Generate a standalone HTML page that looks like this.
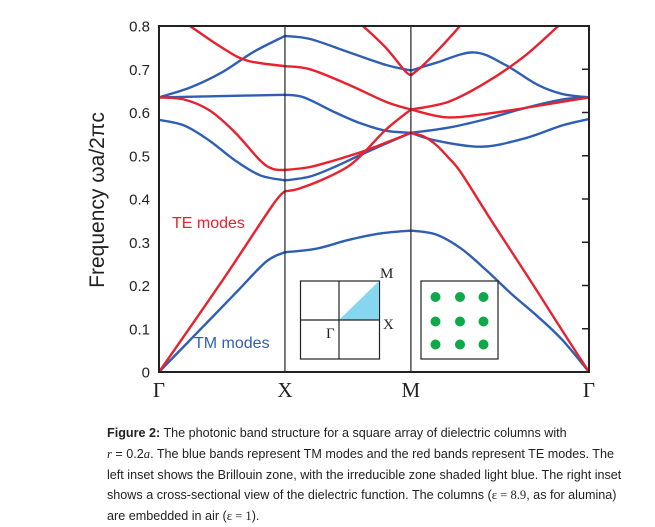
<!DOCTYPE html>
<html><head><meta charset="utf-8"><style>
body{margin:0;background:#fff;width:655px;height:527px;overflow:hidden;font-family:"Liberation Sans",sans-serif}
#cap{position:absolute;left:107px;top:423px;font-size:12.6px;line-height:20.8px;color:#222;white-space:nowrap}
</style></head><body>
<svg id="chart" width="655" height="410" style="position:absolute;left:0;top:0" xmlns="http://www.w3.org/2000/svg">
<g id="bands"></g>
<g id="axes"></g>
</svg>
<div id="cap">
<div><b>Figure 2:</b> The photonic band structure for a square array of dielectric columns with</div>
<div><i style="font-family:'Liberation Serif',serif">r</i> = 0.2<i style="font-family:'Liberation Serif',serif">a</i>. The blue bands represent TM modes and the red bands represent TE modes. The</div>
<div>left inset shows the Brillouin zone, with the irreducible zone shaded light blue. The right inset</div>
<div>shows a cross-sectional view of the dielectric function. The columns (<span style="font-family:'Liberation Serif',serif">ε = 8.9</span>, as for alumina)</div>
<div>are embedded in air (<span style="font-family:'Liberation Serif',serif">ε = 1</span>).</div>
</div>
<script>
const kLabels=["Γ","X","M","Γ"];
const kPoints=[0,1,2,3.414];
const yTicks=[0,0.1,0.2,0.3,0.4,0.5,0.6,0.7,0.8];
const tmBands=[
[[0,0],[0.3,0.09],[0.6,0.18],[0.85,0.255],[1,0.277]],
[[1,0.277],[1.25,0.285],[1.5,0.305],[1.75,0.32],[2,0.327]],
[[2,0.327],[2.2,0.318],[2.4,0.285],[2.6,0.235],[2.8,0.18],[3.0,0.13],[3.2,0.075],[3.414,0]],
[[0,0.583],[0.2,0.57],[0.4,0.535],[0.6,0.49],[0.8,0.455],[1,0.443]],
[[1,0.443],[1.2,0.452],[1.4,0.475],[1.6,0.502],[1.8,0.528],[2,0.553]],
[[0,0.635],[0.5,0.638],[1,0.641]],
[[1,0.641],[1.15,0.635],[1.4,0.6],[1.6,0.575],[1.8,0.558],[2,0.553]],
[[0,0.635],[0.25,0.658],[0.5,0.693],[0.75,0.74],[1,0.777]],
[[1,0.777],[1.2,0.77],[1.5,0.74],[1.8,0.71],[2,0.697]],
[[2,0.697],[2.2,0.715],[2.5,0.739],[2.75,0.71],[3.0,0.665],[3.2,0.643],[3.414,0.635]],
[[2,0.553],[2.3,0.565],[2.6,0.585],[2.9,0.61],[3.2,0.63],[3.414,0.635]],
[[2,0.553],[2.2,0.535],[2.56,0.521],[2.9,0.54],[3.2,0.57],[3.414,0.585]]
];
const teBands=[
[[0,0],[0.5,0.21],[0.9,0.385],[1,0.418]],
[[1,0.418],[1.1,0.423],[1.3,0.445],[1.5,0.475],[1.62,0.505],[1.8,0.56],[2,0.607]],
[[1,0.467],[1.2,0.474],[1.4,0.49],[1.6,0.508],[1.8,0.53],[2,0.553]],
[[2,0.553],[2.1,0.545],[2.2,0.525],[2.3,0.495],[2.4,0.46],[2.65,0.345],[2.93,0.22],[3.17,0.11],[3.414,0]],
[[0,0.635],[0.2,0.63],[0.4,0.605],[0.6,0.555],[0.8,0.49],[0.9,0.47],[1,0.467]],
[[0.246,0.8],[0.5,0.75],[0.7,0.72],[1,0.707]],
[[1,0.707],[1.2,0.7],[1.5,0.665],[1.8,0.625],[2,0.607]],
[[1.62,0.8],[1.8,0.75],[1.95,0.697],[2,0.686]],
[[2,0.686],[2.1,0.71],[2.25,0.755],[2.39,0.8]],
[[2,0.607],[2.3,0.625],[2.6,0.67],[2.9,0.73],[3.17,0.8]],
[[2,0.607],[2.28,0.589],[2.6,0.597],[3.0,0.615],[3.414,0.635]]
];
const NS="http://www.w3.org/2000/svg";
const X0=159,X1=589,Y0=372,Y1=26;
function xs(k){return X0+k*(X1-X0)/3.414;}
function ys(v){return Y0-v*(Y0-Y1)/0.8;}
function el(t,a,p){const e=document.createElementNS(NS,t);for(const k in a)e.setAttribute(k,a[k]);p.appendChild(e);return e;}
function crPath(pts){
  const P=pts.map(p=>[xs(p[0]),ys(p[1])]);
  let d="M"+P[0][0].toFixed(1)+","+P[0][1].toFixed(1);
  for(let i=0;i<P.length-1;i++){
    const p0=P[i-1]||P[i],p1=P[i],p2=P[i+1],p3=P[i+2]||P[i+1];
    const c1=[p1[0]+(p2[0]-p0[0])/6,p1[1]+(p2[1]-p0[1])/6];
    const c2=[p2[0]-(p3[0]-p1[0])/6,p2[1]-(p3[1]-p1[1])/6];
    d+=" C"+c1[0].toFixed(1)+","+c1[1].toFixed(1)+" "+c2[0].toFixed(1)+","+c2[1].toFixed(1)+" "+p2[0].toFixed(1)+","+p2[1].toFixed(1);
  }
  return d;
}
const bands=document.getElementById('bands');
const axes=document.getElementById('axes');
el('clipPath',{id:'clip'},bands);
el('rect',{x:X0,y:Y1,width:X1-X0,height:Y0-Y1},document.getElementById('clip'));
tmBands.forEach((b,i)=>{
  const p=el('path',{d:crPath(b),fill:'none',stroke:'#2f5fb3','stroke-width':2.4,'clip-path':'url(#clip)'},bands);
  
  
});
teBands.forEach((b,i)=>{
  const p=el('path',{d:crPath(b),fill:'none',stroke:'#e8212f','stroke-width':2.4,'clip-path':'url(#clip)'},bands);
  
  
});
const fr=el('rect',{x:X0,y:Y1,width:X1-X0,height:Y0-Y1,fill:'none',stroke:'#222','stroke-width':2},axes);


kPoints.forEach((k,i)=>{
  if(i>0&&i<kPoints.length-1){
    const l=el('line',{x1:xs(k),x2:xs(k),y1:Y1,y2:Y0,stroke:'#222','stroke-width':1.2},axes);
    
    
  }
  const t=el('text',{x:xs(k),y:397,'text-anchor':'middle','font-family':'Liberation Serif,serif','font-size':21,fill:'#222'},axes);
  t.textContent=kLabels[i];
  
  
});
yTicks.forEach(v=>{
  const t=el('text',{x:150,y:ys(v)+5.5,'text-anchor':'end','font-size':15,fill:'#222'},axes);
  t.textContent=v===0?"0":v.toFixed(1);
  
  
  const tk=el('line',{x1:X1-7,x2:X1,y1:ys(v),y2:ys(v),stroke:'#222','stroke-width':1.5},axes);
  
  
});
const yt=el('text',{x:0,y:0,transform:'translate(104,200) rotate(-90)','text-anchor':'middle','font-size':21,fill:'#222'},axes);
yt.textContent="Frequency  ωa/2πc";


const te=el('text',{x:172,y:228,'font-size':16,fill:'#e8212f'},axes);
te.textContent="TE modes";


const tm=el('text',{x:194,y:348,'font-size':16,fill:'#2f5fb3'},axes);
tm.textContent="TM modes";


const bz=el('g',{},axes);


el('rect',{x:300.5,y:281,width:79,height:78,fill:'#fff',stroke:'#222','stroke-width':1.2},bz);
el('polygon',{points:'339,320 379,281 379,320',fill:'#86d6f0'},bz);
el('line',{x1:339,x2:339,y1:281,y2:359,stroke:'#222','stroke-width':1.2},bz);
el('line',{x1:300.5,x2:379.5,y1:320,y2:320,stroke:'#222','stroke-width':1.2},bz);
[['M',380,278],['X',383,329],['Γ',326,338]].forEach(a=>{const t=el('text',{x:a[1],y:a[2],'font-family':'Liberation Serif,serif','font-size':15,fill:'#222'},bz);t.textContent=a[0];});
const di=el('g',{},axes);


el('rect',{x:421,y:281,width:77,height:78,fill:'#fff',stroke:'#222','stroke-width':1.2},di);
[435.5,460,483.5].forEach(cx=>[297,321.5,344.5].forEach(cy=>el('circle',{cx:cx,cy:cy,r:5,fill:'#0fa84a'},di)));
</script>
</body></html>
